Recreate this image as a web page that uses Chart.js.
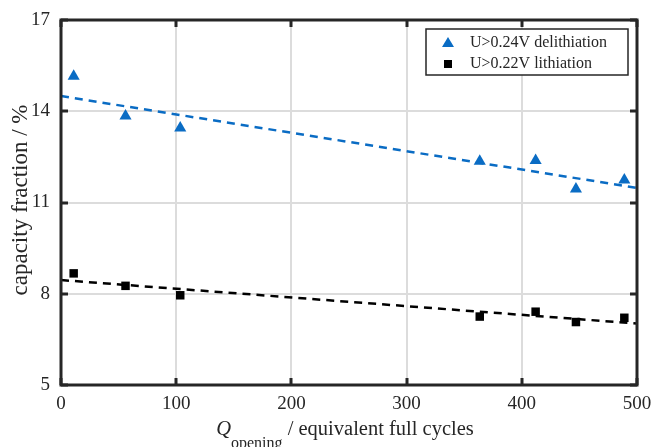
<!DOCTYPE html>
<html>
<head>
<meta charset="utf-8">
<script src="https://cdn.jsdelivr.net/npm/chart.js@4.4.1/dist/chart.umd.min.js"></script>
<style>
  html, body { margin: 0; padding: 0; background: #ffffff; }
  #wrap { width: 654px; height: 447px; position: relative; }
</style>
</head>
<body>
<div id="wrap"><canvas id="c" width="654" height="447"></canvas></div>
<script>
// ---- data ----
const cycles = [11, 56, 103.5, 363.5, 412, 447, 489];
const delithiation = [15.15, 13.84, 13.45, 12.36, 12.38, 11.44, 11.74];
const lithiation = [8.67, 8.26, 7.95, 7.25, 7.41, 7.07, 7.21];
const fitCycles = [0, 500];
const fitDelith = [14.5, 11.48];
const fitLith = [8.45, 7.02];
const xTicks = [0, 100, 200, 300, 400, 500];
const yTicks = [5, 8, 11, 14, 17];
const legendLabels = ['U>0.24V delithiation', 'U>0.22V lithiation'];
const yTitle = 'capacity fraction / %';

const BLUE = '#0a6cc4';
const DARK = '#262626';
const FONT = '"Liberation Serif", "Times New Roman", serif';

const toPts = (xs, ys) => xs.map((x, i) => ({ x: x, y: ys[i] }));

const framePlugin = {
  id: 'frame',
  afterDraw(chart) {
    const { ctx, chartArea: a, scales } = chart;
    ctx.save();
    // inner ticks
    ctx.strokeStyle = DARK;
    ctx.lineWidth = 3;
    const tl = 7;
    xTicks.forEach(v => {
      const px = Math.round(scales.x.getPixelForValue(v));
      ctx.beginPath();
      ctx.moveTo(px, a.bottom); ctx.lineTo(px, a.bottom - tl);
      ctx.moveTo(px, a.top); ctx.lineTo(px, a.top + tl);
      ctx.stroke();
    });
    yTicks.forEach(v => {
      const py = Math.round(scales.y.getPixelForValue(v));
      ctx.beginPath();
      ctx.moveTo(a.left, py); ctx.lineTo(a.left + tl, py);
      ctx.moveTo(a.right, py); ctx.lineTo(a.right - tl, py);
      ctx.stroke();
    });
    // frame
    ctx.lineWidth = 3;
    ctx.strokeRect(a.left, a.top, a.right - a.left, a.bottom - a.top);

    // legend
    const lx = 426, ly = 29, lw = 202, lh = 46;
    ctx.fillStyle = '#ffffff';
    ctx.fillRect(lx, ly, lw, lh);
    ctx.lineWidth = 1.5;
    ctx.strokeStyle = DARK;
    ctx.strokeRect(lx, ly, lw, lh);
    // triangle marker
    const mx = 448;
    ctx.fillStyle = BLUE;
    ctx.beginPath();
    ctx.moveTo(mx, 37); ctx.lineTo(mx + 6, 47); ctx.lineTo(mx - 6, 47); ctx.closePath();
    ctx.fill();
    // square marker
    ctx.fillStyle = '#000000';
    ctx.fillRect(mx - 4, 60, 8, 8);
    ctx.fillStyle = DARK;
    ctx.font = '16px ' + FONT;
    ctx.textBaseline = 'middle';
    ctx.textAlign = 'left';
    ctx.fillText(legendLabels[0], 470, 43);
    ctx.fillText(legendLabels[1], 470, 64);

    // y title
    ctx.save();
    ctx.translate(21, 200);
    ctx.rotate(-Math.PI / 2);
    ctx.font = '23px ' + FONT;
    ctx.textAlign = 'center';
    ctx.textBaseline = 'middle';
    ctx.fillStyle = DARK;
    ctx.fillText(yTitle, 0, 0);
    ctx.restore();

    // x title: Q_opening / equivalent full cycles
    const fMain = '20.5px ' + FONT, fItal = 'italic 20.5px ' + FONT, fSub = '16px ' + FONT;
    ctx.font = fItal; const wQ = ctx.measureText('Q').width;
    ctx.font = fSub; const wS = ctx.measureText('opening').width;
    ctx.font = fMain; const wM = ctx.measureText(' / equivalent full cycles').width;
    const total = wQ + wS + wM;
    let sx = 345 - total / 2;
    ctx.textAlign = 'left';
    ctx.textBaseline = 'alphabetic';
    ctx.fillStyle = DARK;
    ctx.font = fItal; ctx.fillText('Q', sx, 435); sx += wQ;
    ctx.font = fSub; ctx.fillText('opening', sx, 448); sx += wS;
    ctx.font = fMain; ctx.fillText(' / equivalent full cycles', sx, 435);
    ctx.restore();
  }
};

new Chart(document.getElementById('c'), {
  type: 'scatter',
  data: {
    datasets: [
      {
        label: legendLabels[0],
        data: toPts(cycles, delithiation),
        pointStyle: 'triangle',
        radius: 7,
        backgroundColor: BLUE,
        borderColor: BLUE,
        borderWidth: 0
      },
      {
        label: legendLabels[1],
        data: toPts(cycles, lithiation),
        pointStyle: 'rect',
        radius: 6,
        backgroundColor: '#000000',
        borderColor: '#000000',
        borderWidth: 0
      },
      {
        label: 'fit delith',
        data: toPts(fitCycles, fitDelith),
        showLine: true,
        pointRadius: 0,
        borderColor: BLUE,
        borderWidth: 2.5,
        borderDash: [8, 6]
      },
      {
        label: 'fit lith',
        data: toPts(fitCycles, fitLith),
        showLine: true,
        pointRadius: 0,
        borderColor: '#000000',
        borderWidth: 2.5,
        borderDash: [8, 6]
      }
    ]
  },
  options: {
    responsive: false,
    animation: false,
    devicePixelRatio: 1,
    layout: { padding: { top: 20, right: 17, left: 0, bottom: 0 } },
    plugins: { legend: { display: false }, tooltip: { enabled: false } },
    scales: {
      x: {
        type: 'linear',
        min: 0, max: 500,
        afterBuildTicks: s => { s.ticks = xTicks.map(v => ({ value: v })); },
        afterFit: s => { s.height = 62; s.paddingLeft = 0; s.paddingRight = 0; },
        ticks: { color: DARK, font: { family: FONT, size: 19 }, padding: 8, maxRotation: 0 },
        grid: { color: '#dcdcdc', lineWidth: 2, drawTicks: false },
        border: { display: false }
      },
      y: {
        type: 'linear',
        min: 5, max: 17,
        afterBuildTicks: s => { s.ticks = yTicks.map(v => ({ value: v })); },
        afterFit: s => { s.width = 61; s.paddingTop = 0; s.paddingBottom = 0; },
        ticks: { color: DARK, font: { family: FONT, size: 19 }, padding: 11 },
        grid: { color: '#dcdcdc', lineWidth: 2, drawTicks: false },
        border: { display: false }
      }
    }
  },
  plugins: [framePlugin]
});
</script>
</body>
</html>
